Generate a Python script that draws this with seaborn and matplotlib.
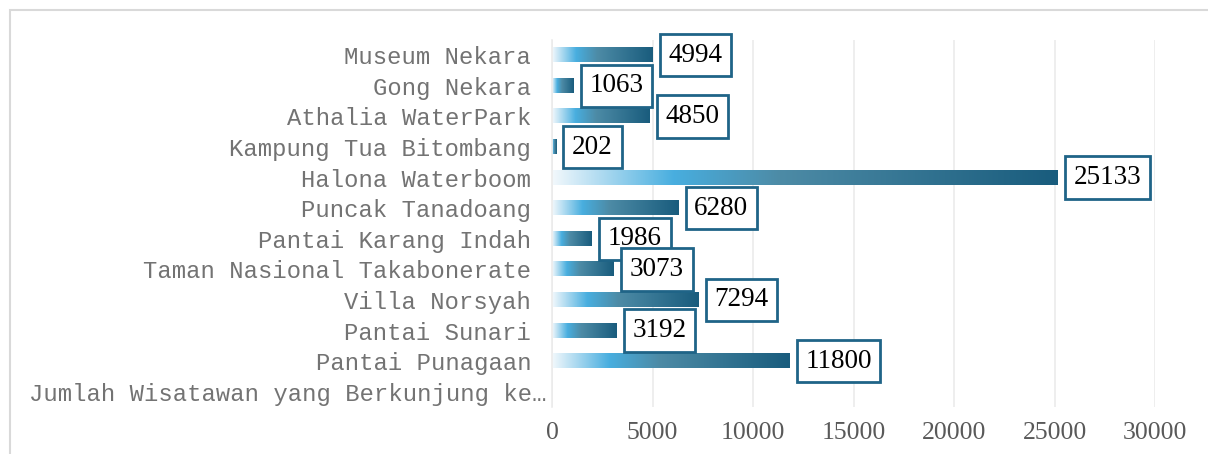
import numpy as np
import pandas as pd
import matplotlib
matplotlib.use("Agg")
import matplotlib.pyplot as plt
import matplotlib.transforms as mtransforms
import seaborn as sns
from matplotlib.colors import LinearSegmentedColormap
from matplotlib.patches import Rectangle

# =====================================================
# Data
# =====================================================

places = [
    "Museum Nekara",
    "Gong Nekara",
    "Athalia WaterPark",
    "Kampung Tua Bitombang",
    "Halona Waterboom",
    "Puncak Tanadoang",
    "Pantai Karang Indah",
    "Taman Nasional Takabonerate",
    "Villa Norsyah",
    "Pantai Sunari",
    "Pantai Punagaan",
    "Jumlah Wisatawan yang Berkunjung ke\u2026",
]

visitors = [4994, 1063, 4850, 202, 25133, 6280, 1986, 3073, 7294, 3192, 11800, np.nan]

x_ticks = [0, 5000, 10000, 15000, 20000, 25000, 30000]

df = pd.DataFrame({"Tempat": places, "Wisatawan": visitors})

# =====================================================
# Plot
# =====================================================

sns.set_style("white")

fig = plt.figure(figsize=(12.08, 4.54), dpi=100)
ax = fig.add_axes([552 / 1208, 1 - 407 / 454, (1155 - 552) / 1208, (407 - 40) / 454])

sns.barplot(
    data=df,
    x="Wisatawan",
    y="Tempat",
    orient="h",
    width=0.46,
    color="#1B5C7C",
    ax=ax,
)

grad = LinearSegmentedColormap.from_list(
    "grad",
    [(0.0, "#F2F8FC"), (0.24, "#48AEDF"), (0.45, "#4D8BA6"), (1.0, "#195C7D")],
)

gradient = np.linspace(0, 1, 256).reshape(1, -1)

for patch, value in zip(ax.patches, visitors):
    if np.isnan(value):
        continue
    x0, y0 = patch.get_x(), patch.get_y()
    w, h = patch.get_width(), patch.get_height()
    patch.set_visible(False)
    ax.imshow(
        gradient,
        cmap=grad,
        aspect="auto",
        extent=[x0, x0 + w, y0 + h, y0],
        interpolation="bilinear",
        zorder=2,
    )
    ax.text(
        x0 + w + 800,
        y0 + h / 2,
        f"{int(value)}",
        va="center",
        ha="left",
        family="Liberation Serif",
        fontsize=19.5,
        color="black",
        zorder=4,
        bbox=dict(boxstyle="square,pad=0.32", facecolor="white", edgecolor="#1F6487", linewidth=2),
    )

ax.set_aspect("auto")
ax.set_xlim(0, 30000)
ax.set_ylim(len(places) - 0.5, -0.5)

ax.set_xticks(x_ticks)
ax.set_xticklabels([str(t) for t in x_ticks], family="Liberation Serif", fontsize=18.5, color="#595959")
ax.set_yticks(range(len(places)))
ax.set_yticklabels(places, family="Liberation Mono", fontsize=17.2, color="#737373")
ax.tick_params(axis="both", length=0)
ax.tick_params(axis="x", pad=11)
ax.tick_params(axis="y", pad=15)

# last (truncated) label sits a little further right
last = ax.get_yticklabels()[-1]
last.set_transform(last.get_transform() + mtransforms.ScaledTranslation(15 / 100, 0, fig.dpi_scale_trans))

ax.set_xlabel("")
ax.set_ylabel("")

ax.grid(axis="x", color="#EBEBEB", linewidth=1.2, zorder=0)
ax.set_axisbelow(True)
for side in ["top", "right", "bottom"]:
    ax.spines[side].set_visible(False)
ax.spines["left"].set_color("#EBEBEB")
ax.spines["left"].set_linewidth(1.2)

# chart border
fig.patches.append(
    Rectangle(
        (10 / 1208, -0.1),
        1.2,
        1.1 - 10 / 454,
        transform=fig.transFigure,
        fill=False,
        edgecolor="#D9D9D9",
        linewidth=1.5,
    )
)

plt.savefig("out.png", dpi=100)
